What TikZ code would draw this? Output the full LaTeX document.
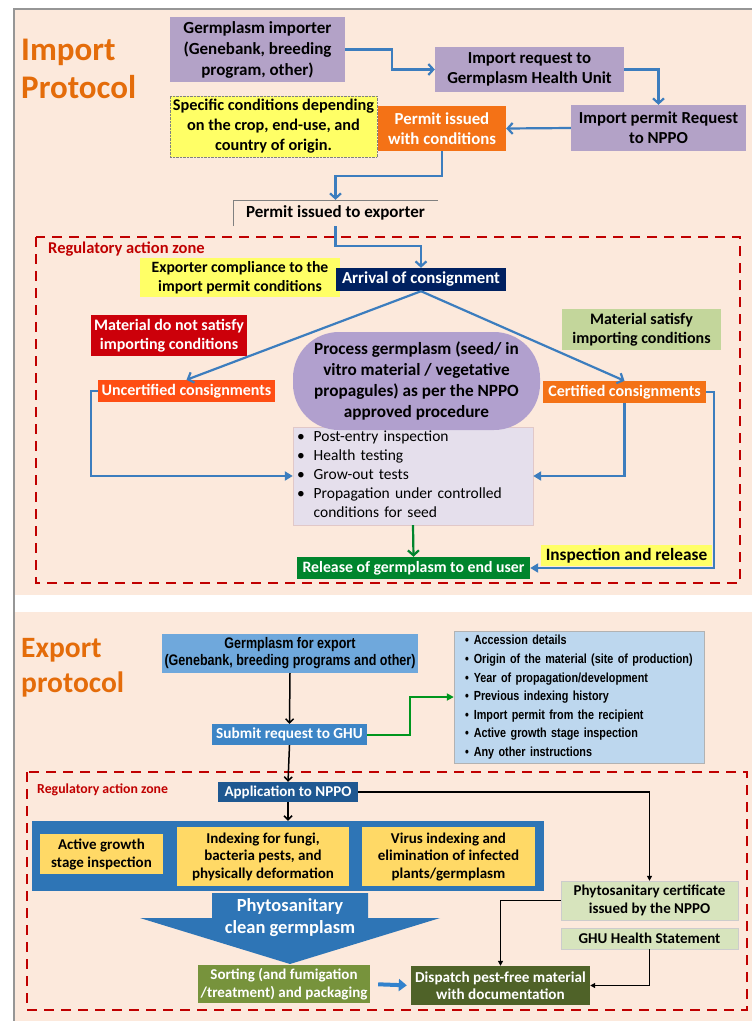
\documentclass[tikz,border=0pt]{standalone}
\usepackage{fontspec}
\setmainfont{Carlito}
\newfontfamily\narrowfont[FakeStretch=0.82]{Liberation Sans}
\usetikzlibrary{arrows.meta,calc}
\definecolor{peach}{RGB}{252,233,220}
\definecolor{framegray}{RGB}{150,150,150}
\definecolor{zonered}{RGB}{192,0,0}
\definecolor{titleorange}{RGB}{228,108,10}
\definecolor{lav}{RGB}{179,162,199}
\definecolor{procpurple}{RGB}{177,160,206}
\definecolor{lavlight}{RGB}{229,223,236}
\definecolor{permorange}{RGB}{244,114,22}
\definecolor{uncorange}{RGB}{255,78,20}
\definecolor{ylw}{RGB}{255,255,102}
\definecolor{navy}{RGB}{0,32,96}
\definecolor{matred}{RGB}{204,0,10}
\definecolor{lgreen}{RGB}{195,214,155}
\definecolor{relgreen}{RGB}{0,133,45}
\definecolor{conblue}{RGB}{60,125,190}
\definecolor{gfeblue}{RGB}{111,168,220}
\definecolor{subblue}{RGB}{61,133,198}
\definecolor{ebblue}{RGB}{189,215,238}
\definecolor{appblue}{RGB}{31,88,145}
\definecolor{bandblue}{RGB}{46,117,182}
\definecolor{gold}{RGB}{255,217,102}
\definecolor{sortgreen}{RGB}{119,147,60}
\definecolor{dispgreen}{RGB}{79,98,40}
\definecolor{paleg}{RGB}{215,228,189}
\definecolor{arrowgreen}{RGB}{0,150,30}
\begin{document}
\begin{tikzpicture}[x=1pt,y=-1pt,
  box/.style={inner sep=0pt, align=center},
  tf/.style args={#1/#2}{font=\bfseries\fontsize{#1}{#2}\selectfont},
  con/.style={draw=conblue, line width=2.2pt, -{Straight Barb[length=5pt,width=11pt]}},
  conf/.style={draw=conblue, line width=2.2pt, -{Triangle[length=8pt,width=9pt]}},
  blk/.style={draw=black, line width=1.5pt, -{Straight Barb[length=4pt,width=8pt]}},
  blkt/.style={draw=black, line width=1.1pt, -{Triangle[length=5pt,width=5pt]}},
  zone/.style={draw=zonered, line width=2.2pt, dash pattern=on 10pt off 7pt},
  zonelabel/.style={text=zonered, inner sep=0pt, anchor=west},
  title/.style={text=titleorange, inner sep=0pt, anchor=west, align=left}
]
\useasboundingbox (0,0) rectangle (752,1021);
\fill[white] (0,0) rectangle (752,1021);
\fill[peach] (14,9) rectangle (752,595);
\fill[peach] (14,612) rectangle (752,1021);
\draw[framegray, line width=1.5pt] (14,1021) -- (14,9) -- (752,9);

% ================= IMPORT =================
\draw[zone] (36,237) rectangle (740,583);
\node[title, tf=33/38] (imptitle) at (21,69) {Import\\Protocol};

\node[box, fill=lav, minimum width=175pt, minimum height=65pt, tf=17/21] (imp) at (257.5,49.5) {Germplasm importer\\(Genebank, breeding\\program, other)};
\node[box, fill=lav, minimum width=189pt, minimum height=45pt, tf=16.8/20] (req) at (529.5,69.5) {Import request to\\Germplasm Health Unit};
\node[box, fill=lav, minimum width=175pt, minimum height=46pt, tf=16.8/20] (npr) at (658.5,128) {Import permit Request\\to NPPO};
\node[box, fill=ylw, draw=gray, densely dotted, minimum width=207pt, minimum height=61pt, tf=16.3/20] (spec) at (273.5,126.5) {Specific conditions depending\\on the crop, end-use, and\\country of origin.};
\node[box, fill=permorange, text=white, minimum width=128pt, minimum height=45pt, tf=16.8/20] (pwc) at (442,128.5) {Permit issued\\with conditions};
\node[box, minimum width=205pt, minimum height=26pt, tf=17/20] (pie) at (335.5,213) {Permit issued to exporter};
\draw[gray, line width=0.6pt] (pie.south west) -- (pie.north west) -- (pie.north east);

\draw[con] (imp.east) -- ++(47,0) |- (req.west);
\draw[con] (req.east) -| (npr.north);
\draw[con] (npr.west) -- (pwc.east);
\draw[con] (pwc.south) -- ++(0,25) -| (pie.north);

\node[zonelabel, tf=16.5/18] (z1) at (48,249) {Regulatory action zone};
\node[box, fill=ylw, minimum width=200pt, minimum height=39pt, tf=15.7/19] (ec) at (240,277.5) {Exporter compliance to the\\import permit conditions};
\node[box, fill=navy, text=white, minimum width=170pt, minimum height=23pt, tf=16.8/18] (arr) at (421,279.5) {Arrival of consignment};
\draw[con] (pie.south) -- ++(0,20) -| (arr.north);

\node[box, fill=matred, text=white, minimum width=156pt, minimum height=41pt, tf=16/19] (mn) at (169,335.5) {Material do not satisfy\\importing conditions};
\node[box, fill=lgreen, minimum width=159pt, minimum height=41pt, tf=16/19] (ms) at (641.5,329.5) {Material satisfy\\importing conditions};
\node[box, fill=uncorange, text=white, minimum width=177pt, minimum height=22pt, tf=16/18] (unc) at (186.5,391) {Uncertified consignments};
\node[box, fill=permorange, text=white, minimum width=163pt, minimum height=22pt, tf=16/18] (cer) at (624.5,392) {Certified consignments};
\draw[con] (arr.south) -- (unc.north);
\draw[con] (arr.south) -- (cer.north);

\node[draw={rgb,255:red,225;green,200;blue,200}, fill=lavlight, minimum width=240pt, minimum height=98pt, text width=232pt, inner xsep=4pt, inner ysep=0pt, align=left, font=\fontsize{15.5}{19}\selectfont] (bl) at (413,476) {\begin{tabular}{@{}l@{\hspace{9pt}}l@{}}•&Post-entry inspection\\•&Health testing\\•&Grow-out tests\\•&Propagation under controlled\\&conditions for seed\end{tabular}};
\node[box, fill=procpurple, rounded corners=46pt, minimum width=247pt, minimum height=98pt, tf=17.2/21] (proc) at (416.5,381) {Process germplasm (seed/ in\\vitro material / vegetative\\propagules) as per the NPPO\\approved procedure};

\node[box, fill=relgreen, text=white, minimum width=233pt, minimum height=22pt, tf=15.8/18] (rel) at (413.5,568) {Release of germplasm to end user};
\node[box, fill=ylw, minimum width=171pt, minimum height=21pt, tf=17.3/18] (insp) at (626.5,555.5) {Inspection and release};

\draw[conf] (unc.west) -- ++(-7,0) |- (bl.west);
\draw[conf] (cer.south) |- (bl.east);
\draw[conf] (cer.east) -- ++(8,0) |- (rel.east);
\draw[draw=relgreen, line width=2.2pt, -{Straight Barb[length=5pt,width=11pt]}] (bl.south) -- (rel.north);

% ================= EXPORT =================
\draw[zone] (27,772) rectangle (747,1010);
\node[title, tf=29.5/35] (exptitle) at (21,668) {Export\\protocol};

\node[box, fill=gfeblue, minimum width=256pt, minimum height=39pt, font=\narrowfont\bfseries\fontsize{15.3}{17}\selectfont] (gfe) at (290,653.5) {Germplasm for export\\(Genebank, breeding programs and other)};
\node[box, fill=subblue, text=white, minimum width=155pt, minimum height=21pt, tf=15.3/18] (sub) at (289.5,734.5) {Submit request to GHU};
\node[draw=gray!60, fill=ebblue, minimum width=250pt, minimum height=132pt, text width=228pt, inner xsep=11pt, inner ysep=0pt, align=left, font=\narrowfont\bfseries\fontsize{13.2}{18.6}\selectfont] (eb) at (579,697) {\begin{tabular}{@{}l@{\hspace{5pt}}l@{}}•&Accession details\\•&Origin of the material (site of production)\\•&Year of propagation/development\\•&Previous indexing history\\•&Import permit from the recipient\\•&Active growth stage inspection\\•&Any other instructions\end{tabular}};

\draw[blk] (gfe.south) -- (sub.north);
\draw[draw=arrowgreen, line width=2pt, -{Triangle[length=7pt,width=7pt]}] (sub.east) -- ++(43,0) |- (eb.west);

\node[zonelabel, tf=13.8/15] (z2) at (37,790) {Regulatory action zone};
\node[box, fill=appblue, text=white, minimum width=140pt, minimum height=20pt, tf=15/18] (app) at (288,792) {Application to NPPO};
\draw[blk] (sub.south) -- (app.north);

\node[box, fill=bandblue, minimum width=512pt, minimum height=70pt] (band) at (288,856) {};
\node[box, fill=gold, minimum width=123pt, minimum height=40pt, tf=15/18] (y1) at (101.5,854) {Active growth\\stage inspection};
\node[box, fill=gold, minimum width=172pt, minimum height=59pt, tf=15/17.5] (y2) at (263,856.5) {Indexing for fungi,\\bacteria pests, and\\physically deformation};
\node[box, fill=gold, minimum width=173pt, minimum height=59pt, tf=15/17.5] (y3) at (448.5,856.5) {Virus indexing and\\elimination of infected\\plants/germplasm};
\draw[blk] (app.south) -- (band.north);

\fill[bandblue] (212,893) -- (368,893) -- (368,918) -- (440,918) -- (290,964) -- (140,918) -- (212,918) -- cycle;
\node[box, text=white, tf=18.5/22] (phyto) at (290,918) {Phytosanitary\\clean germplasm};

\node[box, fill=sortgreen, text=white, minimum width=172pt, minimum height=38pt, tf=15/17.5] (sort) at (284,984) {Sorting (and fumigation\\/treatment) and packaging};
\node[box, fill=dispgreen, text=white, minimum width=179pt, minimum height=39pt, tf=15.2/17.5] (disp) at (500.5,985.5) {Dispatch pest-free material\\with documentation};
\node[box, fill=paleg, draw=gray!40, minimum width=177pt, minimum height=39pt, tf=15/18] (phy) at (649.5,900.5) {Phytosanitary certificate\\issued by the NPPO};
\node[box, fill=paleg, draw=gray!40, minimum width=177pt, minimum height=21pt, tf=15/18] (ghu) at (649.5,938.5) {GHU Health Statement};

\draw[blkt] (app.east) -| (phy.north);
\draw[blkt] (phy.west) -| (disp.north);
\draw[blkt] (ghu.south) |- (disp.east);
\draw[draw={rgb,255:red,50;green,130;blue,205}, line width=4pt, -{Triangle[length=8pt,width=12pt]}, shorten <=8pt, shorten >=4pt] (sort.east) -- (disp.west);
\end{tikzpicture}
\end{document}
